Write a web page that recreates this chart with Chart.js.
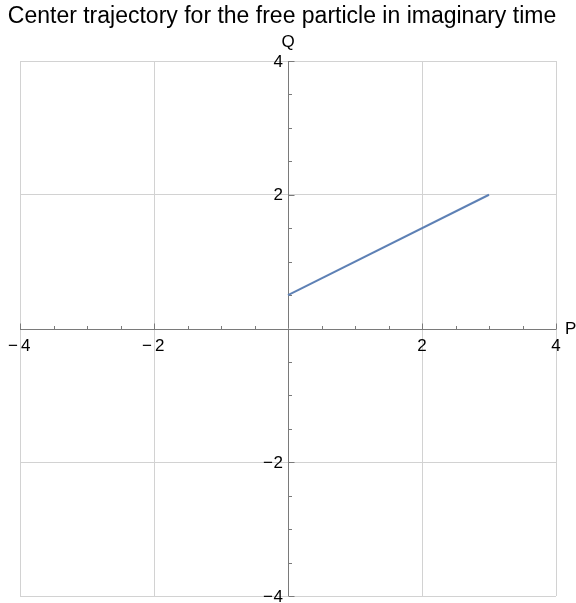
<!DOCTYPE html>
<html>
<head>
    <title>Center trajectory</title>
    <script src="https://cdn.jsdelivr.net/npm/chart.js"></script>
    <style>
        body { margin: 0; background: #fff; }
        #wrap { width: 576px; height: 603px; }
    </style>
</head>
<body>
    <div id="wrap"><canvas id="plot"></canvas></div>
    <script>
        // data
        const trajP = [0, 3];
        const trajQ = [0.5, 2];
        const pTicks = [-4, -2, 2, 4];
        const qTicks = [-4, -2, 2, 4];
        const minorStep = 0.5;

        const points = trajP.map((p, i) => ({ x: p, y: trajQ[i] }));
        const MINUS = '\u2212';

        // axes through the origin, Mathematica style
        const originAxes = {
            id: 'originAxes',
            beforeDatasetsDraw(chart) {
                const { ctx, chartArea: a, scales: { x, y } } = chart;
                const x0 = Math.round(x.getPixelForValue(0)) + 0.5;
                const y0 = Math.round(y.getPixelForValue(0)) + 0.5;
                ctx.save();
                ctx.strokeStyle = '#7a7a7a';
                ctx.lineWidth = 1;
                ctx.beginPath();
                ctx.moveTo(a.left, y0); ctx.lineTo(a.right, y0);
                ctx.moveTo(x0, a.top); ctx.lineTo(x0, a.bottom);
                for (let v = -4; v <= 4.001; v += minorStep) {
                    if (Math.abs(v) < 1e-9) continue;
                    const major = Math.abs(v % 2) < 1e-9;
                    const len = major ? 6 : 3.5;
                    const px = Math.round(x.getPixelForValue(v)) + 0.5;
                    ctx.moveTo(px, y0); ctx.lineTo(px, y0 - len);
                    const py = Math.round(y.getPixelForValue(v)) + 0.5;
                    ctx.moveTo(x0, py); ctx.lineTo(x0 + len, py);
                }
                ctx.stroke();
                ctx.restore();
            },
            afterDraw(chart) {
                const { ctx, chartArea: a, scales: { x, y } } = chart;
                const x0 = x.getPixelForValue(0);
                const y0 = y.getPixelForValue(0);
                ctx.save();
                ctx.fillStyle = '#000';
                ctx.font = '17px "Liberation Sans", Arial, sans-serif';
                ctx.textBaseline = 'top';
                pTicks.forEach(v => {
                    const px = x.getPixelForValue(v);
                    if (v < 0) {
                        ctx.textAlign = 'left';
                        ctx.fillText(String(-v), px + 1, y0 + 9);
                        ctx.textAlign = 'right';
                        ctx.fillText(MINUS, px - 2, y0 + 9);
                    } else {
                        ctx.textAlign = 'center';
                        ctx.fillText(String(v), px, y0 + 9);
                    }
                });
                ctx.textAlign = 'right';
                ctx.textBaseline = 'middle';
                qTicks.forEach(v => {
                    const py = y.getPixelForValue(v) + 1;
                    ctx.fillText(String(Math.abs(v)), x0 - 5, py);
                    if (v < 0) ctx.fillText(MINUS, x0 - 15, py);
                });
                ctx.textAlign = 'left';
                ctx.fillText('P', a.right + 9, y0 + 1);
                ctx.textAlign = 'center';
                ctx.fillText('Q', x0, a.top - 19);
                ctx.font = '23px "Liberation Sans", Arial, sans-serif';
                ctx.fillText('Center trajectory for the free particle in imaginary time', 282, 17);
                ctx.restore();
            }
        };

        const gridColor = c => (c.tick && c.tick.value === 0) ? 'rgba(0,0,0,0)' : '#d2d2d2';

        new Chart(document.getElementById('plot'), {
            type: 'scatter',
            data: {
                datasets: [{
                    data: points,
                    showLine: true,
                    borderColor: '#5e81b5',
                    borderWidth: 2,
                    pointRadius: 0,
                    fill: false
                }]
            },
            options: {
                responsive: true,
                maintainAspectRatio: false,
                animation: false,
                layout: { padding: { left: 20, right: 20, top: 61, bottom: 7 } },
                plugins: { legend: { display: false }, tooltip: { enabled: false } },
                scales: {
                    x: {
                        type: 'linear', min: -4, max: 4,
                        ticks: { display: false, stepSize: 2 },
                        border: { display: false },
                        grid: { color: gridColor, drawTicks: false, lineWidth: 1 }
                    },
                    y: {
                        type: 'linear', min: -4, max: 4,
                        ticks: { display: false, stepSize: 2 },
                        border: { display: false },
                        grid: { color: gridColor, drawTicks: false, lineWidth: 1 }
                    }
                }
            },
            plugins: [originAxes]
        });
    </script>
</body>
</html>
